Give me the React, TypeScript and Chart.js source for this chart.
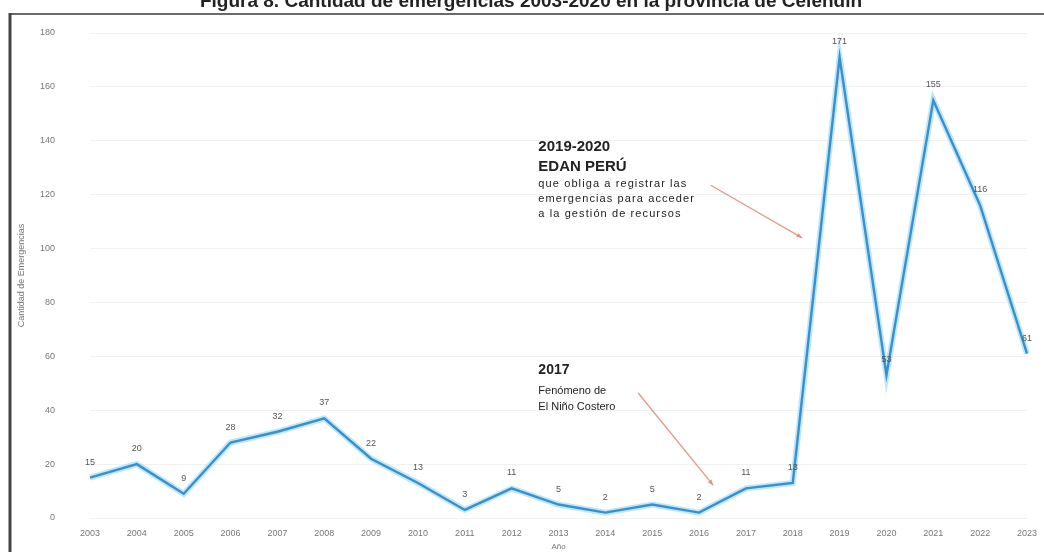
import React, { useEffect, useRef } from "react";
import { Chart, registerables } from "chart.js";

Chart.register(...registerables);

// ---- Data ----
const years = [
  "2003", "2004", "2005", "2006", "2007", "2008", "2009", "2010", "2011", "2012",
  "2013", "2014", "2015", "2016", "2017", "2018", "2019", "2020", "2021", "2022", "2023",
];
const emergencias = [15, 20, 9, 28, 32, 37, 22, 13, 3, 11, 5, 2, 5, 2, 11, 13, 171, 53, 155, 116, 61];
const yMin = 0;
const yMax = 180;
const yStep = 20;

const figureTitle = "Figura 8. Cantidad de emergencias 2003-2020 en la provincia de Celendín";
const yAxisTitle = "Cantidad de Emergencias";
const xAxisTitle = "Año";

const note2017Head = "2017";
const note2017Body = ["Fenómeno de", "El Niño Costero"];
const note2019Head = ["2019-2020", "EDAN PERÚ"];
const note2019Body = ["que obliga a registrar las", "emergencias para acceder", "a la gestión de recursos"];

// annotation anchors in data space (category index, value)
const note2017Anchor = { x: 9.57, y: 57.5 };
const note2017Arrow = { from: { x: 11.7, y: 46.4 }, to: { x: 13.3, y: 12.2 } };
const note2019Anchor = { x: 9.57, y: 140.5 };
const note2019Arrow = { from: { x: 13.25, y: 123.5 }, to: { x: 15.2, y: 104 } };

const FONT = "Arial, 'Liberation Sans', sans-serif";

function drawArrow(ctx: CanvasRenderingContext2D, x1: number, y1: number, x2: number, y2: number) {
  ctx.save();
  ctx.strokeStyle = "rgba(220,140,125,0.85)";
  ctx.fillStyle = "rgba(220,140,125,0.85)";
  ctx.lineWidth = 1.4;
  ctx.beginPath();
  ctx.moveTo(x1, y1);
  ctx.lineTo(x2, y2);
  ctx.stroke();
  const ang = Math.atan2(y2 - y1, x2 - x1);
  const L = 6;
  ctx.beginPath();
  ctx.moveTo(x2, y2);
  ctx.lineTo(x2 - L * Math.cos(ang - 0.4), y2 - L * Math.sin(ang - 0.4));
  ctx.lineTo(x2 - L * Math.cos(ang + 0.4), y2 - L * Math.sin(ang + 0.4));
  ctx.closePath();
  ctx.fill();
  ctx.restore();
}

const framePlugin = {
  id: "framePlugin",
  beforeDraw(chart: any) {
    const ctx = chart.ctx as CanvasRenderingContext2D;
    ctx.save();
    ctx.fillStyle = "#ffffff";
    ctx.fillRect(0, 0, chart.width, chart.height);
    // title (partially cut at top)
    ctx.fillStyle = "#222";
    ctx.font = `bold 19px ${FONT}`;
    ctx.textAlign = "center";
    ctx.textBaseline = "alphabetic";
    ctx.fillText(figureTitle, 531, 7);
    // frame
    ctx.strokeStyle = "#6a6a6a";
    ctx.lineWidth = 2;
    ctx.beginPath();
    ctx.moveTo(10, 14);
    ctx.lineTo(chart.width, 14);
    ctx.stroke();
    ctx.strokeStyle = "#444";
    ctx.lineWidth = 3;
    ctx.beginPath();
    ctx.moveTo(10, 13);
    ctx.lineTo(10, chart.height);
    ctx.stroke();
    ctx.restore();
  },
};

const labelPlugin = {
  id: "labelPlugin",
  afterDatasetsDraw(chart: any) {
    const ctx = chart.ctx as CanvasRenderingContext2D;
    const xs = chart.scales.x;
    const ys = chart.scales.y;
    ctx.save();
    // data labels
    ctx.font = `9px ${FONT}`;
    ctx.fillStyle = "#555";
    ctx.textAlign = "center";
    ctx.textBaseline = "bottom";
    const meta = chart.getDatasetMeta(0);
    meta.data.forEach((pt: any, i: number) => {
      ctx.fillText(String(emergencias[i]), pt.x, pt.y - 11);
    });

    // 2017 note
    const a = { x: xs.getPixelForValue(note2017Anchor.x), y: ys.getPixelForValue(note2017Anchor.y) };
    ctx.textAlign = "left";
    ctx.textBaseline = "top";
    ctx.fillStyle = "#222";
    ctx.font = `bold 14px ${FONT}`;
    ctx.fillText(note2017Head, a.x, a.y);
    ctx.font = `11px ${FONT}`;
    note2017Body.forEach((t, i) => ctx.fillText(t, a.x, a.y + 22 + i * 16));
    drawArrow(
      ctx,
      xs.getPixelForValue(note2017Arrow.from.x), ys.getPixelForValue(note2017Arrow.from.y),
      xs.getPixelForValue(note2017Arrow.to.x), ys.getPixelForValue(note2017Arrow.to.y)
    );

    // 2019 note
    const b = { x: xs.getPixelForValue(note2019Anchor.x), y: ys.getPixelForValue(note2019Anchor.y) };
    ctx.fillStyle = "#222";
    ctx.font = `bold 15px ${FONT}`;
    note2019Head.forEach((t, i) => ctx.fillText(t, b.x, b.y + i * 20));
    ctx.font = `11px ${FONT}`;
    (ctx as any).letterSpacing = "1.1px";
    note2019Body.forEach((t, i) => ctx.fillText(t, b.x, b.y + 39 + i * 15));
    (ctx as any).letterSpacing = "0px";
    drawArrow(
      ctx,
      xs.getPixelForValue(note2019Arrow.from.x), ys.getPixelForValue(note2019Arrow.from.y),
      xs.getPixelForValue(note2019Arrow.to.x), ys.getPixelForValue(note2019Arrow.to.y)
    );
    ctx.restore();
  },
};

export default function App() {
  const canvasRef = useRef<HTMLCanvasElement | null>(null);

  useEffect(() => {
    const canvas = canvasRef.current;
    if (!canvas) return;
    const chart = new Chart(canvas, {
      type: "line",
      data: {
        labels: years,
        datasets: [
          {
            label: "Emergencias",
            data: emergencias,
            borderColor: "#3b8fcc",
            borderWidth: 2.4,
            pointRadius: 0,
            tension: 0,
            fill: false,
            order: 1,
          },
          {
            label: "halo",
            data: emergencias,
            borderColor: "rgba(160,222,246,0.7)",
            borderWidth: 6,
            pointRadius: 0,
            tension: 0,
            fill: false,
            order: 2,
          },
        ],
      },
      options: {
        responsive: false,
        animation: false,
        events: [],
        layout: { autoPadding: false, padding: { left: 10, top: 33, right: 17, bottom: 0 } },
        plugins: {
          legend: { display: false },
          tooltip: { enabled: false },
          title: { display: false },
        },
        scales: {
          x: {
            type: "category",
            offset: false,
            grid: { display: false, drawTicks: false },
            border: { display: false },
            ticks: {
              color: "#777",
              font: { size: 9, family: FONT },
              padding: 10,
              maxRotation: 0,
              autoSkip: false,
            },
            title: {
              display: true,
              text: xAxisTitle,
              color: "#777",
              font: { size: 8, family: FONT },
              padding: { top: 0, bottom: 0 },
            },
            afterFit(scale: any) {
              scale.height = 34;
              scale.paddingLeft = 0;
              scale.paddingRight = 0;
            },
          },
          y: {
            min: yMin,
            max: yMax,
            grid: { color: "#f1f1f1", drawTicks: false },
            border: { display: false },
            ticks: {
              stepSize: yStep,
              color: "#777",
              font: { size: 9, family: FONT },
              padding: 35,
            },
            title: {
              display: true,
              text: yAxisTitle,
              color: "#777",
              font: { size: 9, family: FONT },
              padding: { top: 6, bottom: 0 },
            },
            afterFit(scale: any) {
              scale.width = 80;
              scale.paddingTop = 0;
              scale.paddingBottom = 0;
            },
          },
        },
      },
      plugins: [framePlugin, labelPlugin],
    });
    return () => chart.destroy();
  }, []);

  return (
    <div style={{ position: "fixed", left: 0, top: 0, width: 1044, height: 552, background: "#fff" }}>
      <canvas ref={canvasRef} width={1044} height={552} style={{ display: "block" }} />
    </div>
  );
}
